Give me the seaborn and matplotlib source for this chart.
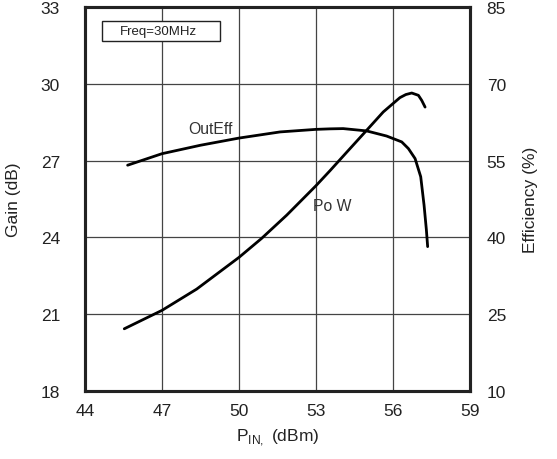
import matplotlib
matplotlib.use("Agg")
import matplotlib.pyplot as plt
from matplotlib.patches import Rectangle
import seaborn as sns
import pandas as pd

# Data
pin_pow = [45.53, 47.0, 48.35, 50.0, 50.88, 51.86, 53.0, 53.54, 54.19, 54.97, 55.62,
           56.27, 56.50, 56.73, 56.99, 57.12, 57.25]
gain_pow = [20.43, 21.15, 21.98, 23.22, 23.96, 24.87, 26.02, 26.60, 27.32, 28.18, 28.90,
            29.46, 29.58, 29.64, 29.55, 29.35, 29.09]

pin_eff = [45.66, 47.0, 48.5, 50.0, 51.6, 53.0, 53.54, 54.06, 54.97, 55.75, 56.34, 56.6,
           56.86, 57.08, 57.21, 57.30, 57.35]
eff = [54.1, 56.35, 58.0, 59.4, 60.6, 61.1, 61.2, 61.25, 60.8, 59.8, 58.65, 57.35,
       55.4, 51.85, 46.3, 41.5, 38.2]

x_ticks = [44, 47, 50, 53, 56, 59]
gain_ticks = [18, 21, 24, 27, 30, 33]
eff_ticks = [10, 25, 40, 55, 70, 85]

sns.set_theme(style="white")
plt.rcParams['font.family'] = ['Liberation Sans', 'DejaVu Sans']
plt.rcParams['mathtext.fontset'] = 'custom'
plt.rcParams['mathtext.rm'] = 'Liberation Sans'

fig = plt.figure(figsize=(5.57, 4.6), dpi=100)
ax = fig.add_axes([85/557, 1-392/460, 385/557, 384/460])
ax2 = ax.twinx()

df_pow = pd.DataFrame({"pin": pin_pow, "gain": gain_pow})
df_eff = pd.DataFrame({"pin": pin_eff, "eff": eff})

sns.lineplot(data=df_pow, x="pin", y="gain", ax=ax, color="black", lw=2.0,
             sort=False, estimator=None)
sns.lineplot(data=df_eff, x="pin", y="eff", ax=ax2, color="black", lw=2.0,
             sort=False, estimator=None)

ax.set_xlim(44, 59)
ax.set_ylim(18, 33)
ax2.set_ylim(10, 85)
ax.set_xticks(x_ticks)
ax.set_yticks(gain_ticks)
ax2.set_yticks(eff_ticks)
ax.set_xticklabels([str(t) for t in x_ticks])
ax.set_yticklabels([str(t) for t in gain_ticks])
ax2.set_yticklabels([str(t) for t in eff_ticks])

ax.grid(True, color="#444444", lw=0.9)
ax.set_axisbelow(True)
for a in (ax, ax2):
    a.tick_params(length=0, labelsize=12.5, colors="#222222")
    for s in a.spines.values():
        s.set_linewidth(2.2)
        s.set_color("#222222")
ax.tick_params(axis="x", pad=9)
ax.tick_params(axis="y", pad=18)
ax2.tick_params(axis="y", pad=12)

ax.set_xlabel(r"P$_{\mathregular{IN},}$ (dBm)", fontsize=12.5, color="#222222", labelpad=6)
ax.set_ylabel("Gain (dB)", fontsize=12.5, color="#222222", labelpad=14)
ax2.set_ylabel("Efficiency (%)", fontsize=12.5, color="#222222", labelpad=12)

ax.text(48.87, 28.25, "OutEff", fontsize=11.3, color="#333333", ha="center", va="center")
ax.text(52.88, 25.26, "Po W", fontsize=11.3, color="#333333", ha="left", va="center")
ax.add_patch(Rectangle((44.65, 31.69), 4.61, 0.78, fc="white", ec="#222222", lw=1.0, zorder=3))
ax.text(45.36, 32.08, "Freq=30MHz", fontsize=9.5, color="#222222", ha="left", va="center",
        zorder=4)

fig.savefig("out.png", dpi=100)
